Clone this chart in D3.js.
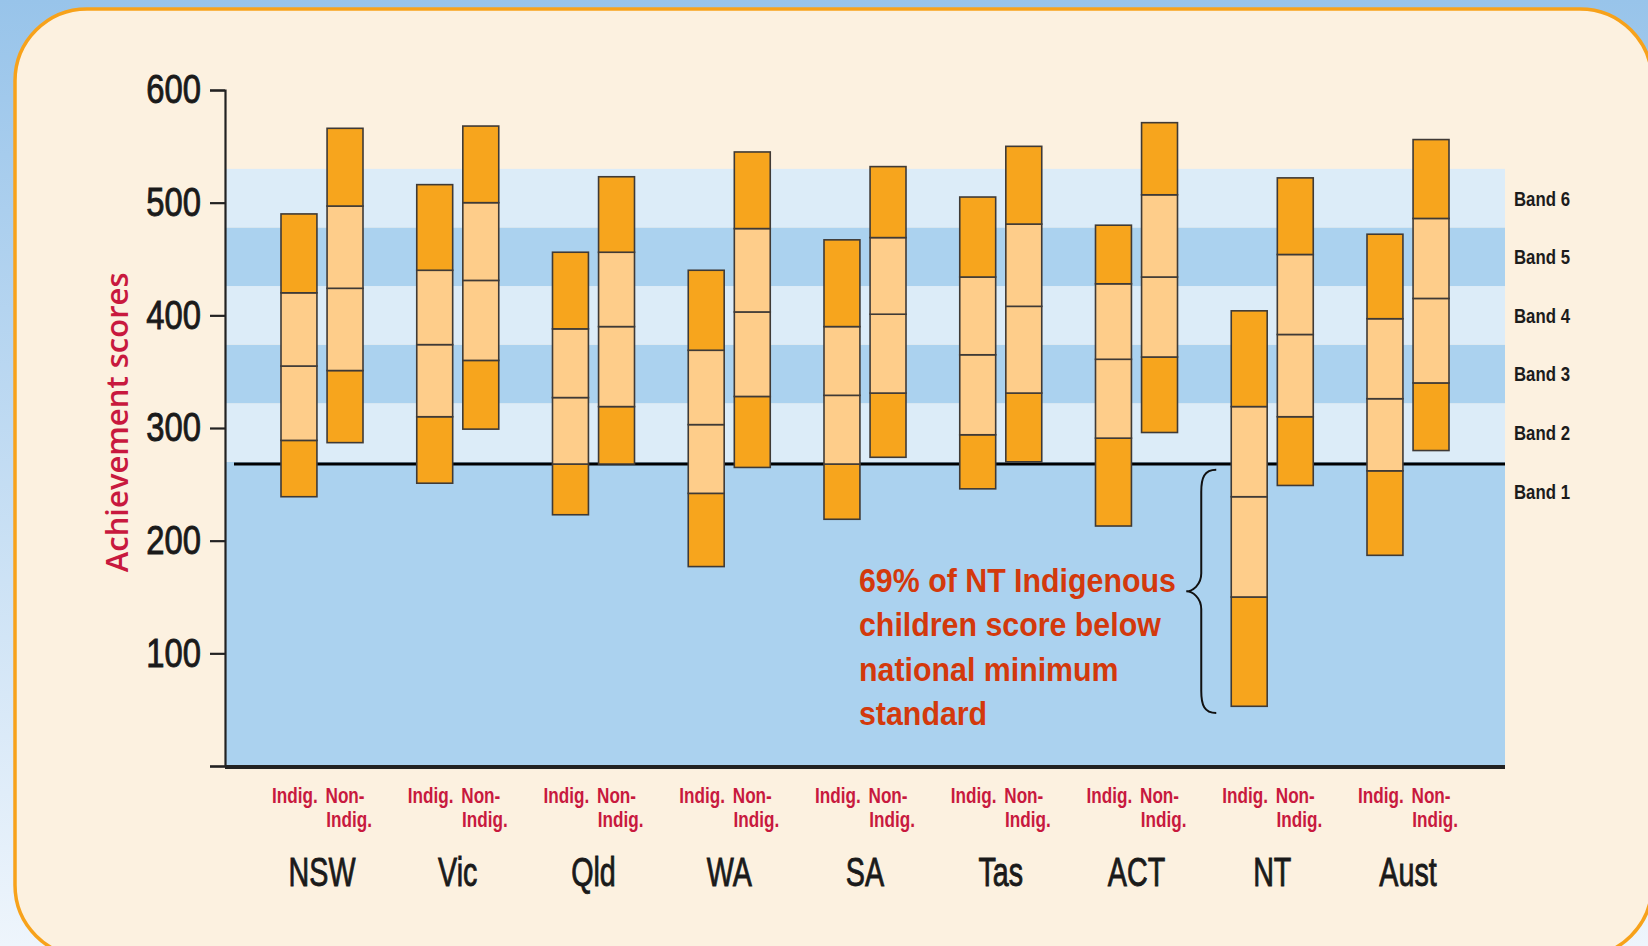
<!DOCTYPE html>
<html>
<head>
<meta charset="utf-8">
<script src="https://cdn.jsdelivr.net/npm/d3@7"></script>
<style>
  html, body { margin: 0; padding: 0; }
  body { width: 1648px; height: 946px; overflow: hidden; }
</style>
</head>
<body>
<svg id="chart" width="1648" height="946"></svg>
<script>
// Year 3 reading scores, percentiles 5th / 20th / 50th / 80th / 95th
const states = ['NSW', 'Vic', 'Qld', 'WA', 'SA', 'Tas', 'ACT', 'NT', 'Aust'];
const groups = ['Indig.', 'Non-Indig.'];

const indigScores = [
    [239, 289, 355, 420, 490],
    [251, 310, 374, 440, 516],
    [223, 268, 327, 388, 456],
    [177, 242, 303, 369, 440],
    [219, 268, 329, 390, 467],
    [246, 294, 365, 434, 505],
    [213, 291, 361, 428, 480],
    [53, 150, 239, 319, 404],
    [187, 262, 326, 397, 472]
];
const nonIndigScores = [
    [287, 351, 424, 497, 566],
    [299, 360, 431, 500, 568],
    [268, 319, 390, 456, 523],
    [265, 328, 403, 477, 545],
    [274, 331, 401, 469, 532],
    [270, 331, 408, 481, 550],
    [296, 363, 434, 507, 571],
    [249, 310, 383, 454, 522],
    [280, 340, 415, 486, 556]
];

const bandTops = [270, 322, 374, 426, 478, 530];
const bandWidth = 52;
const bandLabels = ['Band 1', 'Band 2', 'Band 3', 'Band 4', 'Band 5', 'Band 6'];
const yTicks = [0, 100, 200, 300, 400, 500, 600];
const minStandard = 268;
const noteLines = ['69% of NT Indigenous', 'children score below', 'national minimum', 'standard'];
const braceRange = [263, 47]; // score range covered by the brace

const svg = d3.select('#chart');
const width = +svg.attr('width');
const height = +svg.attr('height');

const sans = '"Liberation Sans", Arial, sans-serif';
const darkOrange = '#F7A51D';
const lightOrange = '#FECD8A';
const crimson = '#C8193E';

// squeeze text horizontally, the original uses a condensed face
function squeeze(sel, sx) {
    sel.each(function () {
        const t = d3.select(this);
        const x = +t.attr('x') || 0, y = +t.attr('y') || 0;
        t.attr('x', null).attr('y', null)
            .attr('transform', `translate(${x},${y}) scale(${sx},1)`);
    });
}

// ---- background + panel
const defs = svg.append('defs');
const grad = defs.append('linearGradient').attr('id', 'sky')
    .attr('x1', 0).attr('y1', 0).attr('x2', 0).attr('y2', 1);
grad.append('stop').attr('offset', '0%').attr('stop-color', '#98C4EA');
grad.append('stop').attr('offset', '100%').attr('stop-color', '#EEF5FC');

svg.append('rect').attr('width', width).attr('height', height).attr('fill', 'url(#sky)');
svg.append('rect')
    .attr('x', 15).attr('y', 9).attr('width', 1637).attr('height', 948)
    .attr('rx', 72).attr('ry', 72)
    .attr('fill', '#FCF1E0')
    .attr('stroke', '#F7A21B')
    .attr('stroke-width', 3.5);

// ---- scales
const plotLeft = 225, plotRight = 1505;
const y = d3.scaleLinear().domain([0, 600]).range([766, 90]);
const x0 = d3.scalePoint().domain(states).range([322, 1408]);
const x1 = d3.scaleBand().domain(groups).range([-41, 41]).paddingInner(0.22);

// ---- score bands behind the bars
const bands = bandTops.map((top, i) => ({ lo: i === 0 ? 0 : bandTops[i - 1], hi: top, label: bandLabels[i], i }));

svg.append('g').selectAll('rect')
    .data(bands)
    .enter()
    .append('rect')
    .attr('x', plotLeft)
    .attr('width', plotRight - plotLeft)
    .attr('y', d => y(d.hi))
    .attr('height', d => y(d.lo) - y(d.hi))
    .attr('fill', d => d.i % 2 === 0 ? '#ABD2EF' : '#DCECF8');

svg.append('g').selectAll('text')
    .data(bands)
    .enter()
    .append('text')
    .attr('x', plotRight + 9)
    .attr('y', d => y(d.hi - bandWidth / 2))
    .attr('dy', '0.36em')
    .attr('font-family', sans)
    .attr('font-weight', 'bold')
    .attr('font-size', 21)
    .attr('fill', '#1c1c1c')
    .text(d => d.label)
    .call(squeeze, 0.8);

// ---- national minimum standard line
svg.append('line')
    .attr('x1', plotLeft + 9).attr('x2', plotRight)
    .attr('y1', y(minStandard)).attr('y2', y(minStandard))
    .attr('stroke', '#000').attr('stroke-width', 3);

// ---- bars, four segments each
const bars = [];
states.forEach((s, i) => {
    [indigScores[i], nonIndigScores[i]].forEach((p, g) => {
        bars.push({ state: s, group: groups[g], p });
    });
});

const segments = [];
bars.forEach(b => {
    for (let k = 0; k < 4; k++) {
        segments.push({ state: b.state, group: b.group, lo: b.p[k], hi: b.p[k + 1], dark: k === 0 || k === 3 });
    }
});

svg.append('g').selectAll('rect')
    .data(segments)
    .enter()
    .append('rect')
    .attr('x', d => x0(d.state) + x1(d.group))
    .attr('width', x1.bandwidth())
    .attr('y', d => y(d.hi))
    .attr('height', d => y(d.lo) - y(d.hi))
    .attr('fill', d => d.dark ? darkOrange : lightOrange)
    .attr('stroke', '#3f3a36')
    .attr('stroke-width', 1.6);

// ---- y axis
const yAxis = d3.axisLeft(y)
    .tickValues(yTicks)
    .tickSize(15)
    .tickPadding(9)
    .tickFormat(d => d === 0 ? '' : d);

const yAxisG = svg.append('g')
    .attr('transform', `translate(${plotLeft},0)`)
    .call(yAxis);
yAxisG.selectAll('path, line').attr('stroke', '#222').attr('stroke-width', 2.2);
yAxisG.selectAll('text')
    .attr('font-family', sans)
    .attr('font-size', 40)
    .attr('fill', '#1a1a1a')
    .attr('stroke', '#1a1a1a')
    .attr('stroke-width', 0.9)
    .call(squeeze, 0.82);

svg.append('text')
    .attr('transform', `translate(117,${y(305)}) rotate(-90)`)
    .attr('text-anchor', 'middle')
    .attr('dy', '0.35em')
    .attr('font-family', '"Open Sans", sans-serif')
    .attr('font-weight', 600)
    .attr('font-size', 31)
    .attr('fill', crimson)
    .text('Achievement scores');

// ---- bottom axis line
svg.append('line')
    .attr('x1', plotLeft).attr('x2', plotRight)
    .attr('y1', y(0) + 1).attr('y2', y(0) + 1)
    .attr('stroke', '#222').attr('stroke-width', 4);

// ---- category labels
const labelG = svg.append('g')
    .attr('font-family', sans)
    .attr('font-weight', 'bold')
    .attr('font-size', 22)
    .attr('fill', crimson)
    .attr('text-anchor', 'middle');

states.forEach(s => {
    const cI = x0(s) + x1(groups[0]) + x1.bandwidth() / 2;
    const cN = x0(s) + x1(groups[1]) + x1.bandwidth() / 2;
    labelG.append('text').attr('x', cI - 4).attr('y', 803).text('Indig.');
    labelG.append('text').attr('x', cN).attr('y', 803).text('Non-');
    labelG.append('text').attr('x', cN + 4).attr('y', 827).text('Indig.');
});
labelG.selectAll('text').call(squeeze, 0.78);

svg.append('g').selectAll('text')
    .data(states)
    .enter()
    .append('text')
    .attr('x', d => x0(d))
    .attr('y', 886)
    .attr('text-anchor', 'middle')
    .attr('font-family', sans)
    .attr('font-size', 41)
    .attr('fill', '#1a1a1a')
    .attr('stroke', '#1a1a1a')
    .attr('stroke-width', 0.9)
    .text(d => d)
    .call(squeeze, 0.7);

// ---- NT annotation
const ntLeft = x0('NT') + x1(groups[0]);
const xr = ntLeft - 15, xm = ntLeft - 30, xt = ntLeft - 45;
const by0 = y(braceRange[0]), by1 = y(braceRange[1]), bym = (by0 + by1) / 2;
svg.append('path')
    .attr('d', `M${xr},${by0} C${xm + 3},${by0} ${xm},${by0 + 8} ${xm},${by0 + 22}
        L${xm},${bym - 18} C${xm},${bym - 6} ${xt + 6},${bym} ${xt},${bym}
        C${xt + 6},${bym} ${xm},${bym + 6} ${xm},${bym + 18}
        L${xm},${by1 - 22} C${xm},${by1 - 8} ${xm + 3},${by1} ${xr},${by1}`)
    .attr('fill', 'none')
    .attr('stroke', '#111')
    .attr('stroke-width', 2);

svg.append('g').selectAll('text')
    .data(noteLines)
    .enter()
    .append('text')
    .attr('x', 859)
    .attr('y', (d, i) => 592 + i * 44.4)
    .attr('font-family', sans)
    .attr('font-weight', 'bold')
    .attr('font-size', 33)
    .attr('fill', '#D3390C')
    .text(d => d)
    .call(squeeze, 0.92);
</script>
</body>
</html>
